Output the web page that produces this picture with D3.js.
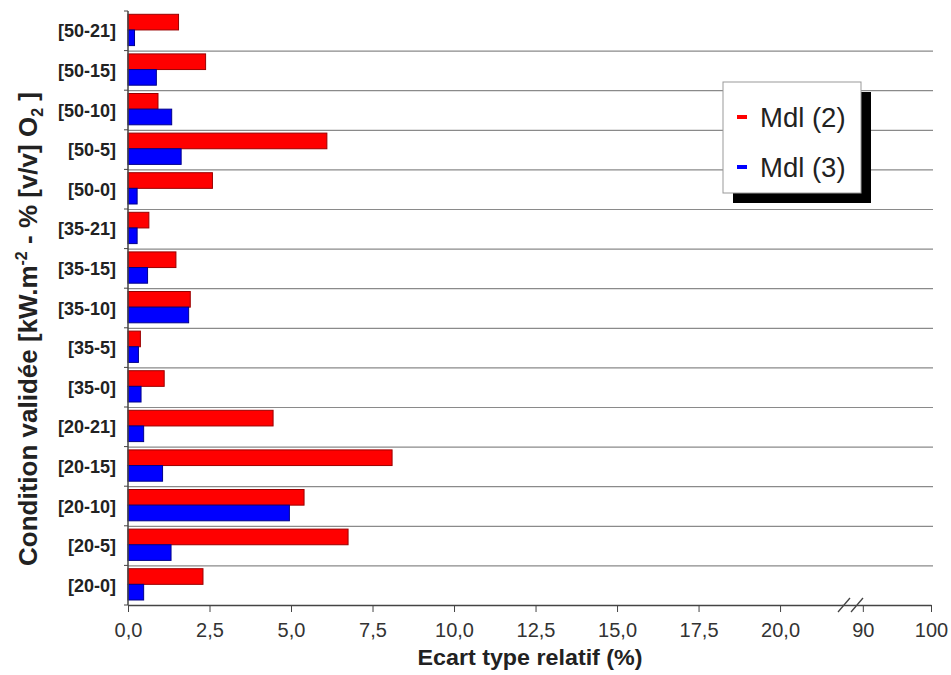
<!DOCTYPE html>
<html><head><meta charset="utf-8">
<script src="https://cdn.jsdelivr.net/npm/d3@7"></script>
<style>body{margin:0;background:#fff}svg{display:block}</style>
</head><body><svg id="c" width="951" height="675"></svg>
<script>
const categories = ["[50-21]","[50-15]","[50-10]","[50-5]","[50-0]","[35-21]","[35-15]","[35-10]","[35-5]","[35-0]","[20-21]","[20-15]","[20-10]","[20-5]","[20-0]"];
const mdl2 = [1.55,2.38,0.92,6.1,2.59,0.64,1.47,1.91,0.38,1.11,4.45,8.1,5.4,6.75,2.3];
const mdl3 = [0.2,0.87,1.34,1.63,0.28,0.28,0.6,1.86,0.32,0.4,0.48,1.06,4.95,1.32,0.48];
const seriesNames = ["Mdl (2)","Mdl (3)"];
const ticks1 = [0,2.5,5,7.5,10,12.5,15,17.5,20];
const ticks2 = [90,100];

const FONT = "Liberation Sans, Arial, sans-serif";
const svg = d3.select("#c");
const pL = 128, pT = 11, pB = 605, pR = 933;
const x1 = d3.scaleLinear().domain([0,21.9]).range([pL,842]);
const x2 = d3.scaleLinear().domain([89,100]).range([856,931]);
const y = d3.scaleBand().domain(categories).range([pT,pB]);
const inner = d3.scaleBand().domain(["a","b"]).range([3.3, y.bandwidth()-5]);

// gridlines
svg.append("g").selectAll("line").data(categories.slice(1)).join("line")
  .attr("x1",pL).attr("x2",pR)
  .attr("y1",d=>y(d)+0.5).attr("y2",d=>y(d)+0.5)
  .attr("stroke","#8a8a8a").attr("stroke-width",1.2);

// bars
const colors = [{fill:"#ff0000",stroke:"#9a0000"},{fill:"#0000ff",stroke:"#00008a"}];
[mdl2,mdl3].forEach((vals,si)=>{
  svg.append("g").selectAll("rect").data(vals).join("rect")
    .attr("x",x1(0))
    .attr("y",(d,i)=>y(categories[i])+inner(si?"b":"a"))
    .attr("width",d=>x1(d)-x1(0))
    .attr("height",inner.bandwidth())
    .attr("fill",colors[si].fill).attr("stroke",colors[si].stroke).attr("stroke-width",1);
});

// y axis
const yAx = svg.append("g").attr("transform",`translate(${pL},0)`);
yAx.append("line").attr("x1",0).attr("x2",0).attr("y1",pT).attr("y2",pB).attr("stroke","#444").attr("stroke-width",1.5);
yAx.selectAll("line.t").data(categories.concat(["end"])).join("line").attr("class","t")
  .attr("x1",-4).attr("x2",0)
  .attr("y1",(d,i)=>pT+i*y.step()).attr("y2",(d,i)=>pT+i*y.step())
  .attr("stroke","#444");
yAx.selectAll("text").data(categories).join("text")
  .attr("x",-12).attr("y",d=>y(d)+y.bandwidth()/2+6.5)
  .attr("text-anchor","end")
  .attr("font-family",FONT).attr("font-weight","bold")
  .attr("font-size",18).attr("fill","#222").text(d=>d);

// x axis
const fmt = d=>d3.format(".1f")(d).replace(".",",");
const ax1 = svg.append("g").attr("transform",`translate(0,${pB})`)
  .call(d3.axisBottom(x1).tickValues(ticks1).tickFormat(fmt).tickSize(7).tickSizeOuter(0));
const ax2 = svg.append("g").attr("transform",`translate(0,${pB})`)
  .call(d3.axisBottom(x2).tickValues(ticks2).tickFormat(d3.format("d")).tickSize(7).tickSizeOuter(0));
[ax1,ax2].forEach(a=>{
  a.attr("font-size",20).attr("font-family",FONT);
  a.select(".domain").attr("stroke","#444").attr("stroke-width",1.5);
  a.selectAll(".tick line").attr("stroke","#444");
  a.selectAll(".tick text").style("font-family",FONT)
    .style("font-size","20px").attr("fill","#333").attr("y",32).attr("dy",0);
});
svg.append("line").attr("x1",842).attr("x2",856).attr("y1",pB+0.5).attr("y2",pB+0.5).attr("stroke","#444").attr("stroke-width",1.5);
// break marks
[844,857].forEach(bx=>{
  svg.append("line").attr("x1",bx-6).attr("y1",pB+7).attr("x2",bx+6).attr("y2",pB-7)
    .attr("stroke","#444").attr("stroke-width",1.3);
});

// x title
svg.append("text").attr("x",530).attr("y",665).attr("text-anchor","middle")
  .attr("font-family",FONT).attr("font-weight","bold")
  .attr("font-size",22).attr("fill","#222")
  .attr("textLength",225).attr("lengthAdjust","spacingAndGlyphs")
  .text("Ecart type relatif (%)");

// y title
const yt = svg.append("text").attr("transform","translate(37,329) rotate(-90)")
  .attr("text-anchor","middle")
  .attr("font-family",FONT).attr("font-weight","bold")
  .attr("font-size",26).attr("fill","#222");
yt.append("tspan").text("Condition validée [kW.m");
yt.append("tspan").attr("dy",-10).attr("font-size",16).text("-2");
yt.append("tspan").attr("dy",10).text(" - % [v/v] O");
yt.append("tspan").attr("dy",6).attr("font-size",16).text("2");
yt.append("tspan").attr("dy",-6).text(" ]");

// legend
const lg = svg.append("g");
lg.append("rect").attr("x",733).attr("y",92).attr("width",138).attr("height",111).attr("fill","#000");
lg.append("rect").attr("x",723).attr("y",82).attr("width",138).attr("height",111).attr("fill","#fff").attr("stroke","#999");
seriesNames.forEach((n,i)=>{
  const yy = 117 + i*50;
  lg.append("line").attr("x1",737).attr("x2",747).attr("y1",yy).attr("y2",yy)
    .attr("stroke",colors[i].fill).attr("stroke-width",4);
  lg.append("text").attr("x",760).attr("y",yy+10)
    .attr("font-family",FONT).attr("font-size",27.5).attr("fill","#222").text(n);
});
</script></body></html>
